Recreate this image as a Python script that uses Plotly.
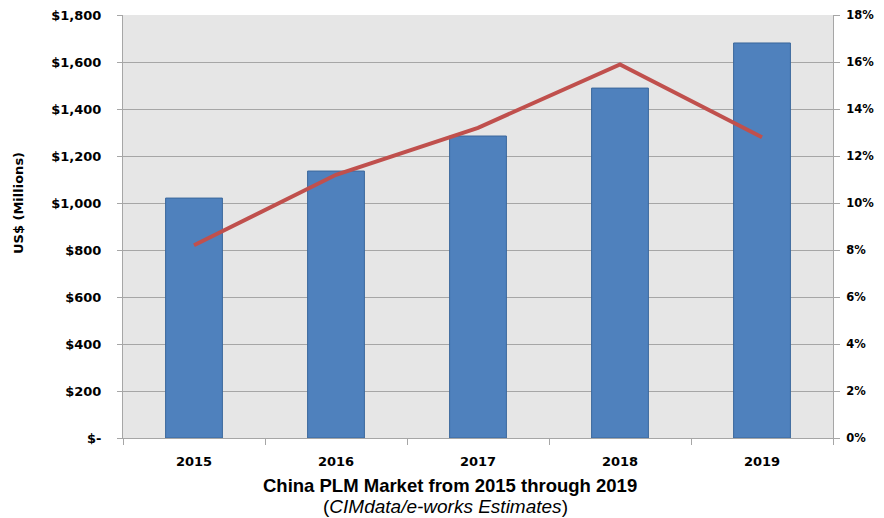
import plotly.graph_objects as go

years = ["2015", "2016", "2017", "2018", "2019"]
revenue = [1021, 1136, 1285, 1489, 1681]
growth = [8.2, 11.2, 13.2, 15.9, 12.8]

left_ticks = [0, 200, 400, 600, 800, 1000, 1200, 1400, 1600, 1800]
left_labels = ["$-", "$200", "$400", "$600", "$800", "$1,000", "$1,200", "$1,400", "$1,600", "$1,800"]
right_ticks = [0, 2, 4, 6, 8, 10, 12, 14, 16, 18]
right_labels = ["0%", "2%", "4%", "6%", "8%", "10%", "12%", "14%", "16%", "18%"]

# the page body has an 8px margin, so the figure is laid out 8px smaller / shifted
OFF = 8
W, H = 884 - OFF, 518 - OFF
ML, MT = 123 - OFF, 15 - OFF
MR = W - (833 - OFF)
MB = H - (438 - OFF)
grid = "#A6A6A6"
tickfont = dict(family="DejaVu Sans", size=13, color="#000000", weight="bold")
tickfont_r = dict(family="DejaVu Sans", size=11.5, color="#000000", weight="bold")

fig = go.Figure()
fig.add_trace(go.Bar(x=years, y=revenue, marker=dict(color="#4F81BD", line=dict(color="#3A679C", width=1)),
                     yaxis="y", showlegend=False))
fig.add_trace(go.Scatter(x=years, y=growth, mode="lines", line=dict(color="#C0504D", width=4),
                         yaxis="y2", showlegend=False))

pw = W - ML - MR
ph = H - MT - MB


def px_x(x):
    return (x - OFF - ML) / pw


def px_y(y):
    return (H - MB - (y - OFF)) / ph


fig.update_layout(
    width=W, height=H,
    margin=dict(l=ML, r=MR, t=MT, b=MB),
    paper_bgcolor="white", plot_bgcolor="#E6E6E6",
    bargap=0.6,
    font=dict(family="DejaVu Sans", color="#000000"),
    xaxis=dict(tickfont=tickfont, showgrid=False, showline=True, linecolor=grid, linewidth=1,
               ticks="outside", tickson="boundaries", ticklen=6, tickcolor=grid, automargin=False,
               ticklabelstandoff=11),
    yaxis=dict(range=[0, 1800], tickvals=left_ticks, ticktext=left_labels, tickfont=tickfont,
               showgrid=True, gridcolor=grid, gridwidth=1, showline=True, linecolor=grid,
               ticks="outside", ticklen=5, tickcolor=grid, zeroline=False, automargin=False,
               ticklabelstandoff=13, ticklabeloverflow="allow"),
    yaxis2=dict(range=[0, 18], tickvals=right_ticks, ticktext=right_labels, tickfont=tickfont_r,
                overlaying="y", side="right", showgrid=False, showline=True, linecolor=grid,
                ticks="outside", ticklen=6, tickcolor=grid, zeroline=False, automargin=False,
                ticklabelstandoff=4, ticklabeloverflow="allow"),
    annotations=[
        dict(text="US$ (Millions)", x=px_x(18), y=px_y(203), xref="paper", yref="paper", textangle=-90,
             showarrow=False, xanchor="center", yanchor="middle",
             font=dict(family="DejaVu Sans", size=13, weight="bold")),
        dict(text="<b>China PLM Market from 2015 through 2019</b>", x=px_x(450), y=px_y(485),
             xref="paper", yref="paper", showarrow=False, xanchor="center", yanchor="middle",
             font=dict(family="Liberation Sans", size=18.5)),
        dict(text="(<i>CIMdata/e-works Estimates</i>)", x=px_x(445), y=px_y(506),
             xref="paper", yref="paper", showarrow=False, xanchor="center", yanchor="middle",
             font=dict(family="Liberation Sans", size=19)),
    ],
)

fig.write_html("out.html")
